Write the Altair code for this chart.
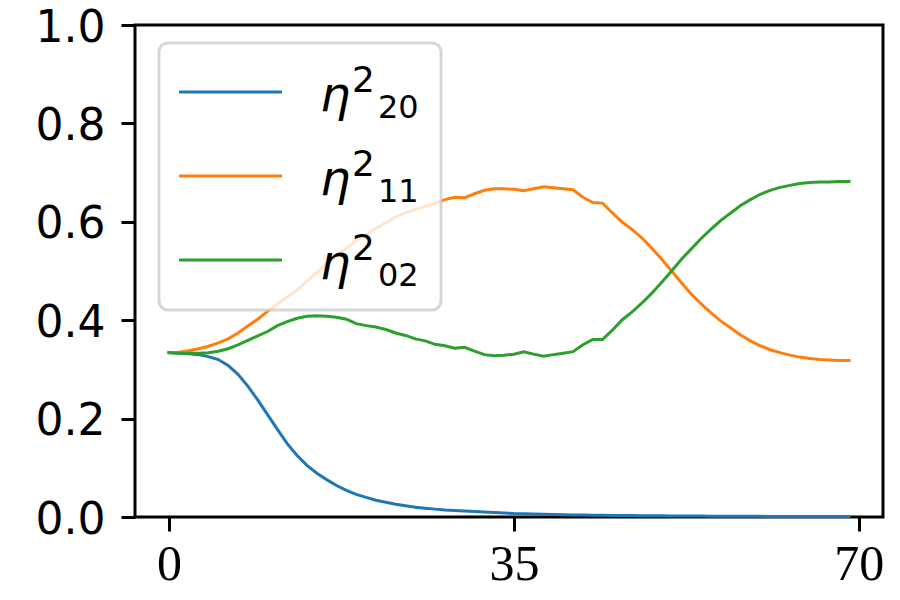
import altair as alt
import pandas as pd

# ---------------- data ----------------
steps = list(range(70))

eta20 = [0.334, 0.333, 0.332, 0.330, 0.326, 0.320, 0.308, 0.290, 0.266, 0.238,
         0.208, 0.178, 0.149, 0.125, 0.105, 0.089, 0.076, 0.064, 0.054, 0.046,
         0.040, 0.034, 0.030, 0.026, 0.023, 0.020, 0.018, 0.016, 0.014, 0.013,
         0.012, 0.011, 0.010, 0.009, 0.008, 0.007, 0.0065, 0.006, 0.0055, 0.005,
         0.0045, 0.004, 0.004, 0.0035, 0.0035, 0.003, 0.003, 0.003, 0.0027, 0.0025,
         0.0023, 0.0022, 0.002, 0.002, 0.0018, 0.0017, 0.0016, 0.0015, 0.0014, 0.0013,
         0.0013, 0.0012, 0.0012, 0.0011, 0.0011, 0.001, 0.001, 0.001, 0.001, 0.001]

eta11 = [0.334, 0.335, 0.338, 0.342, 0.347, 0.354, 0.362, 0.374, 0.388, 0.402,
         0.418, 0.433, 0.447, 0.461, 0.479, 0.497, 0.515, 0.530, 0.546, 0.562,
         0.574, 0.587, 0.598, 0.610, 0.618, 0.625, 0.631, 0.638, 0.645, 0.650,
         0.649, 0.657, 0.664, 0.667, 0.667, 0.666, 0.663, 0.667, 0.671, 0.669,
         0.667, 0.665, 0.650, 0.639, 0.638, 0.618, 0.599, 0.584, 0.567, 0.546,
         0.524, 0.500, 0.476, 0.453, 0.433, 0.415, 0.398, 0.384, 0.370, 0.358,
         0.348, 0.340, 0.334, 0.329, 0.325, 0.322, 0.320, 0.319, 0.318, 0.318]

eta02 = [0.334, 0.333, 0.333, 0.333, 0.334, 0.337, 0.342, 0.350, 0.359, 0.368,
         0.377, 0.389, 0.397, 0.404, 0.408, 0.409, 0.408, 0.406, 0.402, 0.393,
         0.389, 0.386, 0.381, 0.374, 0.369, 0.362, 0.358, 0.351, 0.348, 0.343,
         0.345, 0.337, 0.330, 0.328, 0.329, 0.331, 0.336, 0.331, 0.327, 0.330,
         0.333, 0.336, 0.350, 0.361, 0.361, 0.380, 0.401, 0.417, 0.435, 0.455,
         0.477, 0.500, 0.524, 0.545, 0.566, 0.585, 0.603, 0.618, 0.633, 0.645,
         0.656, 0.664, 0.670, 0.674, 0.678, 0.680, 0.681, 0.681, 0.682, 0.682]

series_subs = ["20", "11", "02"]
series_values = [eta20, eta11, eta02]
series_colors = ["#1f77b4", "#ff7f0e", "#2ca02c"]

x_ticks = [0, 35, 70]
y_ticks = [0.0, 0.2, 0.4, 0.6, 0.8, 1.0]

# ---------------- layout ----------------
TOP = 17           # padding above the plot area
W, H = 748, 492
one = pd.DataFrame({"k": [0]})

x_enc = alt.X(
    "step:Q",
    scale=alt.Scale(domain=[-3.45, 72.45], nice=False, zero=False),
    axis=alt.Axis(values=x_ticks, title=None, grid=False, domain=False,
                  labelFont="Liberation Serif", labelFontSize=50, labelColor="black",
                  labelPadding=8, labelFlush=False, labelOverlap=False,
                  tickSize=14, tickWidth=3, tickColor="black"),
)
y_enc = alt.Y(
    "value:Q",
    scale=alt.Scale(domain=[0, 1], nice=False, zero=False),
    axis=alt.Axis(values=y_ticks, format=".1f", title=None, grid=False, domain=False,
                  labelFont="DejaVu Sans", labelFontSize=44, labelColor="black",
                  labelPadding=16, labelOffset=3, labelFlush=False, labelOverlap=False,
                  tickSize=14, tickWidth=3, tickColor="black"),
)

layers = []
for sub, vals, col in zip(series_subs, series_values, series_colors):
    df = pd.DataFrame({"step": steps, "value": vals})
    layers.append(
        alt.Chart(df).mark_line(color=col, strokeWidth=3, strokeCap="square")
        .encode(x=x_enc, y=y_enc)
    )

# legend frame (positions relative to plot-area top-left; page y = 8 + TOP + value)
off = 25 - 8 - TOP  # keeps legend at its reference page position
layers.append(
    alt.Chart(one).mark_rect(fill="white", fillOpacity=0.8, stroke="#cccccc",
                             strokeOpacity=0.8, strokeWidth=3, cornerRadius=9)
    .encode(x=alt.value(24), x2=alt.value(306),
            y=alt.value(43 - 25 + off - 0), y2=alt.value(310 - 25 + off))
)

row_page_y = [92, 176, 260]
for sub, col, py in zip(series_subs, series_colors, row_page_y):
    ly = py - 25 + off
    layers.append(
        alt.Chart(one).mark_rule(color=col, strokeWidth=3)
        .encode(x=alt.value(44), x2=alt.value(147), y=alt.value(ly))
    )
    layers.append(
        alt.Chart(one).mark_text(text="η", font="DejaVu Sans", fontStyle="italic",
                                 fontSize=48, align="left", baseline="alphabetic",
                                 color="black")
        .encode(x=alt.value(185), y=alt.value(ly + 19))
    )
    layers.append(
        alt.Chart(one).mark_text(text="2", font="DejaVu Sans", fontSize=36,
                                 align="left", baseline="alphabetic", color="black")
        .encode(x=alt.value(217), y=alt.value(ly))
    )
    layers.append(
        alt.Chart(one).mark_text(text=sub, font="DejaVu Sans", fontSize=32,
                                 align="left", baseline="alphabetic", color="black")
        .encode(x=alt.value(243), y=alt.value(ly + 26))
    )

chart = (
    alt.layer(*layers)
    .properties(width=W, height=H,
                background="white",
                autosize=alt.AutoSizeParams(type="none"),
                padding={"left": 127, "top": TOP, "right": 9, "bottom": 82})
    .configure_view(stroke="black", strokeWidth=3)
)

chart.save("out.html", embed_options={"renderer": "svg", "actions": False})
